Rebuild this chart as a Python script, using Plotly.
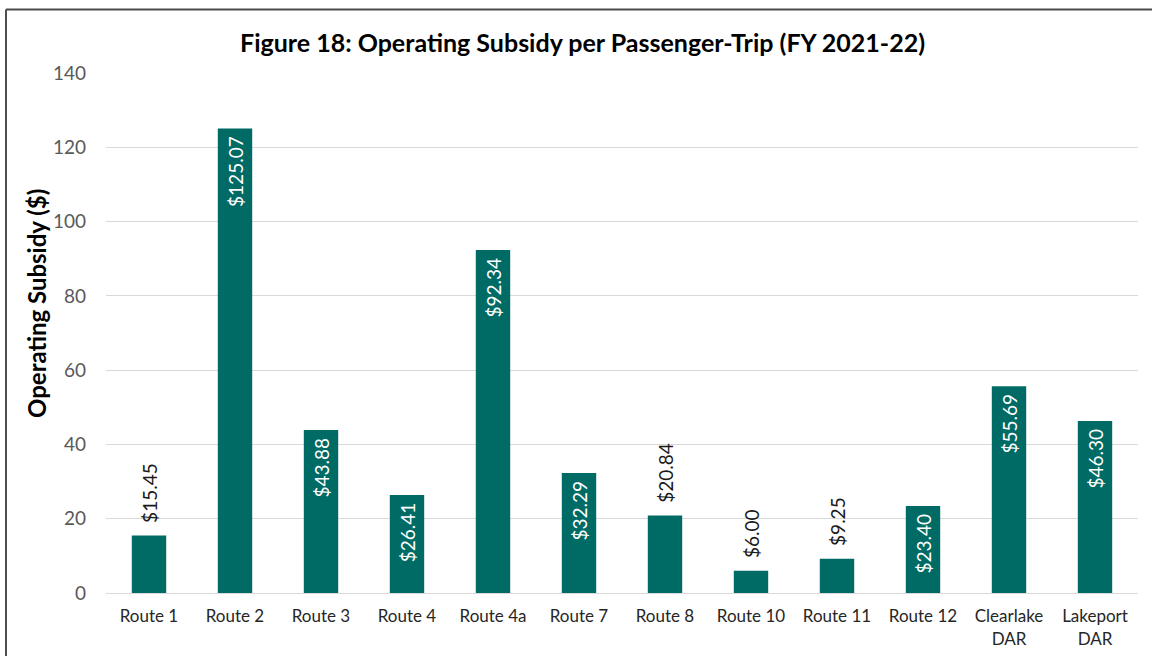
import plotly.graph_objects as go

# Operating subsidy per passenger-trip by route, FY 2021-22
routes = ["Route 1", "Route 2", "Route 3", "Route 4", "Route 4a", "Route 7",
          "Route 8", "Route 10", "Route 11", "Route 12", "Clearlake<br>DAR", "Lakeport<br>DAR"]
subsidy = [15.45, 125.07, 43.88, 26.41, 92.34, 32.29, 20.84, 6.00, 9.25, 23.40, 55.69, 46.30]
label_pos = ["outside", "inside", "inside", "inside", "inside", "inside",
             "outside", "outside", "outside", "inside", "inside", "inside"]
y_ticks = [0, 20, 40, 60, 80, 100, 120, 140]

FONT = "Lato, 'Open Sans', sans-serif"
BAR = "#006a65"
PAD = "\u00a0"

# rotated labels: a little breathing room between the label and the bar top
labels = []
for v, p in zip(subsidy, label_pos):
    s = f"${v:,.2f}"
    labels.append(PAD * 2 + s if p == "outside" else s + PAD)
text_colors = ["#ffffff" if p == "inside" else "#1a1a1a" for p in label_pos]

fig = go.Figure(go.Bar(
    x=routes,
    y=subsidy,
    marker=dict(color=BAR, line=dict(width=0)),
    text=labels,
    textposition=label_pos,
    textangle=-90,
    insidetextanchor="end",
    constraintext="none",
    textfont=dict(family=FONT, size=19, color=text_colors),
    cliponaxis=False,
    hoverinfo="skip",
))

L, R, T, B = 106, 14, 73, 63
PW, PH = 1152 - L - R, 656 - T - B

fig.update_layout(
    width=1152,
    height=656,
    margin=dict(l=L, r=R, t=T, b=B, autoexpand=False),
    paper_bgcolor="#ffffff",
    plot_bgcolor="#ffffff",
    bargap=0.6,
    showlegend=False,
    font=dict(family=FONT),
    title=dict(
        text="<b>Figure 18: Operating Subsidy per Passenger-Trip (FY 2021-22)</b>",
        x=(235 + 930) / 2 / 1152, xanchor="center", xref="container",
        y=1 - 43 / 656, yanchor="middle", yref="container",
        font=dict(family=FONT, size=25, color="#000000"),
    ),
    xaxis=dict(
        type="category",
        automargin=False,
        showgrid=False,
        showline=True,
        linecolor="#d9d9d9",
        linewidth=1,
        ticks="",
        ticklabelstandoff=8,
        tickfont=dict(family=FONT, size=17, color="#262626"),
        fixedrange=True,
    ),
    yaxis=dict(
        range=[0, 140],
        automargin=False,
        tickvals=y_ticks,
        showgrid=True,
        gridcolor="#d9d9d9",
        gridwidth=1,
        zeroline=False,
        showline=False,
        ticks="",
        ticklabelstandoff=19,
        tickfont=dict(family=FONT, size=19, color="#595959"),
        fixedrange=True,
    ),
    annotations=[
        dict(text="<b>Operating Subsidy ($)</b>", textangle=-90,
             xref="paper", yref="paper",
             x=(36 - L) / PW, y=(593 - 304) / PH,
             xanchor="center", yanchor="middle", showarrow=False,
             font=dict(family=FONT, size=24, color="#000000")),
    ],
    shapes=[
        # chart frame: top and left edges, running off the page to the right and bottom
        dict(type="line", xref="paper", yref="paper",
             x0=(6 - L) / PW, x1=(1152 - L) / PW,
             y0=(593 - 9.5) / PH, y1=(593 - 9.5) / PH,
             line=dict(color="#4d4d4d", width=2), layer="below"),
        dict(type="line", xref="paper", yref="paper",
             x0=(6 - L) / PW, x1=(6 - L) / PW,
             y0=(593 - 656) / PH, y1=(593 - 9.5) / PH,
             line=dict(color="#4d4d4d", width=2), layer="below"),
    ],
)

fig.write_html("out.html")
